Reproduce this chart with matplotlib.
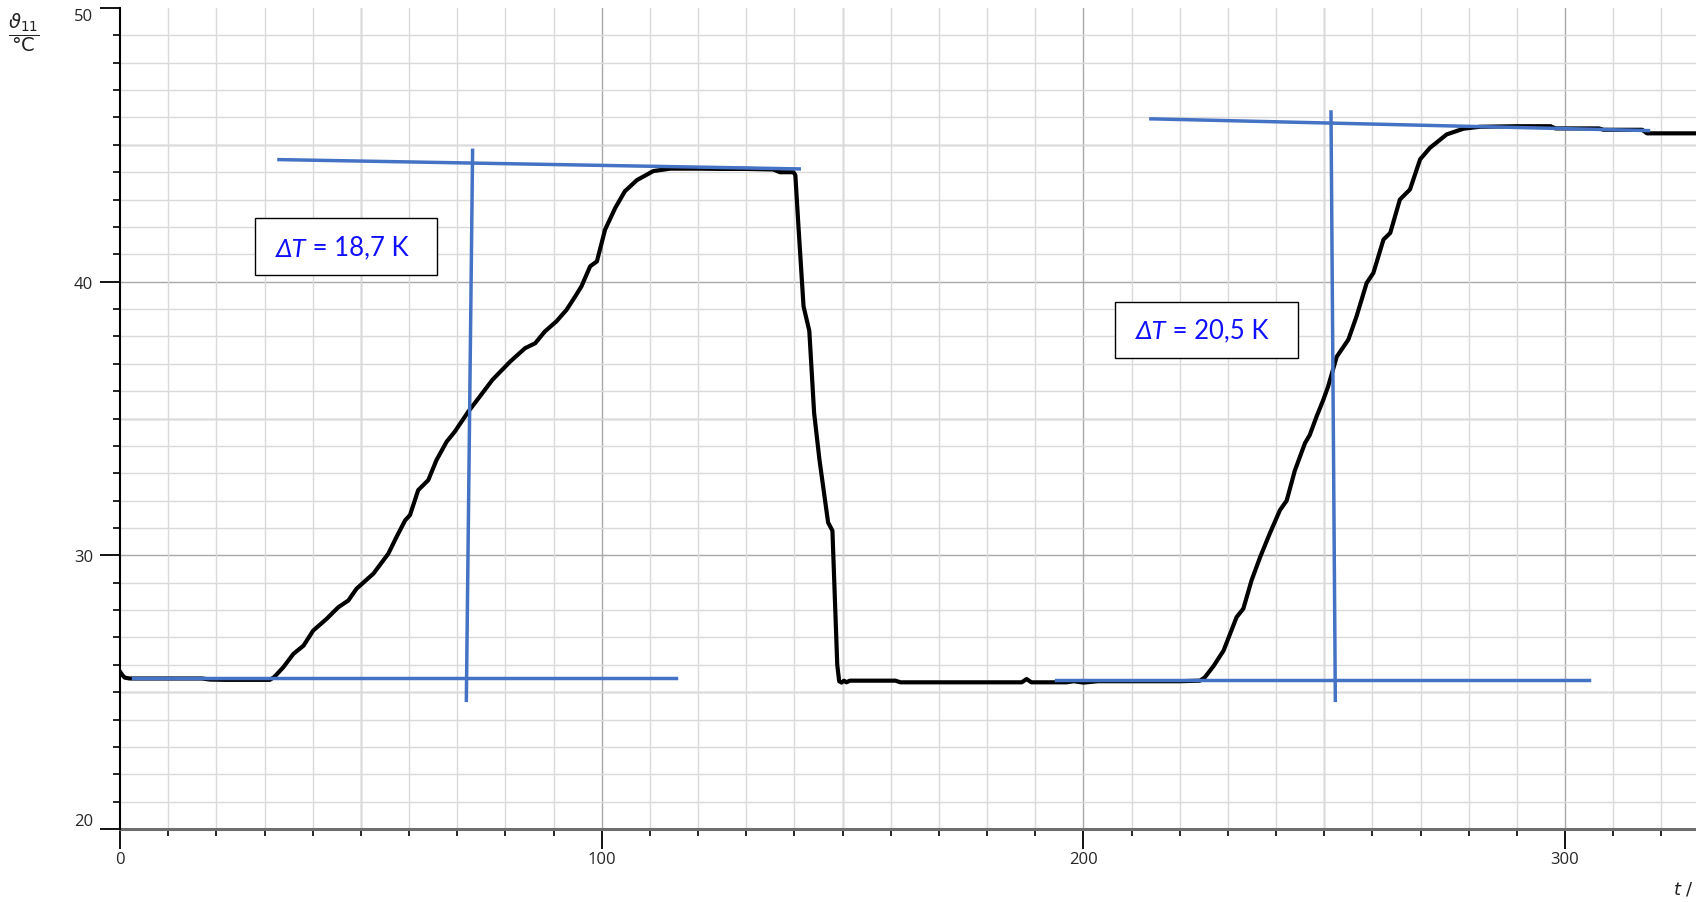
import matplotlib.pyplot as plt
from matplotlib.patches import Rectangle
from matplotlib.ticker import MultipleLocator

t = [0, 0.5, 1.0, 2.0, 5, 10, 15, 17, 18.7, 22, 26, 30, 31.1,
     32.0, 33.9, 36.0, 38.1, 40.1, 42.9, 45.3, 47.4, 49.1, 52.6, 55.7,
     57.4, 59.2, 60.2, 61.9, 64.0, 65.7, 67.8, 69.5, 72.3, 74.6, 77.3,
     81.0, 84.1, 86.2, 88.2, 90.6, 92.7, 94.5, 95.8, 97.6, 99.0, 100.7,
     102.8, 104.8, 107.3, 110.7, 114.2, 120, 125, 130, 135.6, 137.0, 139.8,
     140.2, 140.8, 141.9, 143.1, 144.1, 145.2, 147.0, 147.9, 148.9, 149.3,
     149.8, 150.3, 150.8, 151.5, 155, 161, 162, 175, 187.2, 188.2, 189.2,
     196.5, 198, 200, 203, 210, 220, 224.2,
     225.2, 227.0, 229.1, 231.8, 233.2, 234.9, 236.7, 238.7, 240.8, 242.2,
     243.9, 246.0, 247.0, 248.4, 249.8, 250.8, 252.6, 255.0, 256.7, 258.8,
     260.2, 262.3, 263.7, 265.7, 267.8, 269.9, 272.0, 273.3, 275.4, 278.9,
     282.3, 290, 297, 298, 307, 308, 316, 317, 327.5]
T = [25.75, 25.62, 25.53, 25.5, 25.5, 25.5, 25.5, 25.5, 25.46, 25.45, 25.45, 25.45, 25.45,
     25.55, 25.91, 26.4, 26.7, 27.25, 27.68, 28.1, 28.35, 28.78, 29.33, 30.06,
     30.67, 31.28, 31.47, 32.38, 32.75, 33.48, 34.15, 34.52, 35.25, 35.78, 36.41,
     37.08, 37.57, 37.75, 38.18, 38.55, 38.97, 39.46, 39.83, 40.56, 40.74, 41.9,
     42.69, 43.3, 43.71, 44.04, 44.13, 44.13, 44.12, 44.12, 44.1, 44.0, 44.0,
     43.9, 42.15, 39.1, 38.2, 35.2, 33.5, 31.2, 30.9, 26.0, 25.4,
     25.35, 25.42, 25.36, 25.42, 25.42, 25.42, 25.36, 25.36, 25.36, 25.48, 25.36,
     25.36, 25.4, 25.35, 25.4, 25.4, 25.4, 25.42,
     25.54, 25.95, 26.52, 27.74, 28.05, 29.08, 29.94, 30.8, 31.65, 32.0,
     33.1, 34.1, 34.4, 35.07, 35.68, 36.17, 37.26, 37.88, 38.73, 39.95,
     40.32, 41.54, 41.78, 43.0, 43.37, 44.47, 44.9, 45.08, 45.38, 45.59,
     45.66, 45.68, 45.68, 45.6, 45.6, 45.55, 45.55, 45.42, 45.42]

# helper lines: start/end in t and T
base1_t, base1_T = [2.8, 115.4], [25.5, 25.5]
top1_t, top1_T = [33.0, 141.0], [44.46, 44.12]
vert1_t, vert1_T = [73.2, 71.9], [44.8, 24.7]
base2_t, base2_T = [194.4, 304.9], [25.43, 25.43]
top2_t, top2_T = [214.0, 317.3], [45.95, 45.52]
vert2_t, vert2_T = [251.4, 252.3], [46.2, 24.7]

dT_labels = ["18,7 K", "20,5 K"]

W, H = 1696, 903
fig = plt.figure(figsize=(W / 100, H / 100), dpi=100)
ax = fig.add_axes([120 / W, 73 / H, 1 - 120 / W, 821 / H])
ax.set_xlim(0, 1576 / 4.817)
ax.set_ylim(20, 50)

# grid: light every 10 s / 1 degC, darker every 50 s / 5 degC
ax.xaxis.set_minor_locator(MultipleLocator(10))
ax.yaxis.set_minor_locator(MultipleLocator(1))
ax.grid(which="minor", color="#dadada", linewidth=1.0, zorder=0)
for xv in range(50, 330, 50):
    ax.axvline(xv, color="#a8a8a8", linewidth=1.0, zorder=0.5)
for yv in range(25, 50, 5):
    ax.axhline(yv, color="#a8a8a8", linewidth=1.0, zorder=0.5)

# curve and helper lines
ax.plot(t, T, color="black", linewidth=3.0, zorder=3, solid_joinstyle="round")
blue = "#4472C4"
for xs, ys in [(base1_t, base1_T), (top1_t, top1_T), (vert1_t, vert1_T),
               (base2_t, base2_T), (top2_t, top2_T), (vert2_t, vert2_T)]:
    ax.plot(xs, ys, color=blue, linewidth=2.5, zorder=4, clip_on=False)

# text boxes with delta T
boxes = [(28.0, 40.26, 37.8, 2.08, 32.3, 40.95),
         (206.6, 37.22, 37.9, 2.05, 210.9, 37.93)]
box_font = ["Lato", "Noto Sans", "DejaVu Sans"]
for (bx, by, bw, bh, tx, ty), lab in zip(boxes, dT_labels):
    ax.add_patch(Rectangle((bx, by), bw, bh, facecolor="white",
                           edgecolor="black", linewidth=1.0, zorder=5))
    first = ax.text(tx, ty, "\u0394T", color="#1010ff", fontsize=18.5,
                    family=box_font, style="italic", va="baseline", zorder=6)
    ax.annotate(" = " + lab, xy=(1, 0), xycoords=first, va="bottom",
                ha="left", color="#1010ff", fontsize=18.5, family=box_font,
                zorder=6)

# axes styling
for s in ["top", "right"]:
    ax.spines[s].set_visible(False)
ax.spines["left"].set_color("black")
ax.spines["left"].set_linewidth(1.5)
ax.spines["bottom"].set_color("#6e6e6e")
ax.spines["bottom"].set_linewidth(2.2)
ax.spines["bottom"].set_zorder(2)

ax.set_xticks([0, 100, 200, 300])
ax.set_xticklabels(["0", "100", "200", "300"])
ax.set_yticks([20, 30, 40, 50])
ylabs = ax.set_yticklabels(["20", "30", "40", "50"])
ylabs[0].set_va("bottom")
ylabs[-1].set_va("top")

ax.tick_params(axis="both", which="major", length=14.4, width=1.3,
               color="black", labelsize=12, labelcolor="#262626")
ax.tick_params(axis="y", which="major", pad=5.0)
ax.tick_params(axis="x", which="major", pad=1.5)
ax.tick_params(axis="both", which="minor", length=5, width=1.2, color="black")
for lab in ax.get_xticklabels() + ax.get_yticklabels():
    lab.set_family(["Open Sans", "DejaVu Sans"])

# axis titles
fig.text(24 / W, 1 - 33 / H, r"$\dfrac{\vartheta_{11}}{°\mathrm{C}}$",
         ha="center", va="center", fontsize=14, color="#222222",
         math_fontfamily="dejavusans")
fig.text(1694 / W, 4 / H, r"$t$ /", ha="right", va="bottom", fontsize=13,
         color="#222222", math_fontfamily="dejavusans")

fig.savefig("out.png", dpi=100)
